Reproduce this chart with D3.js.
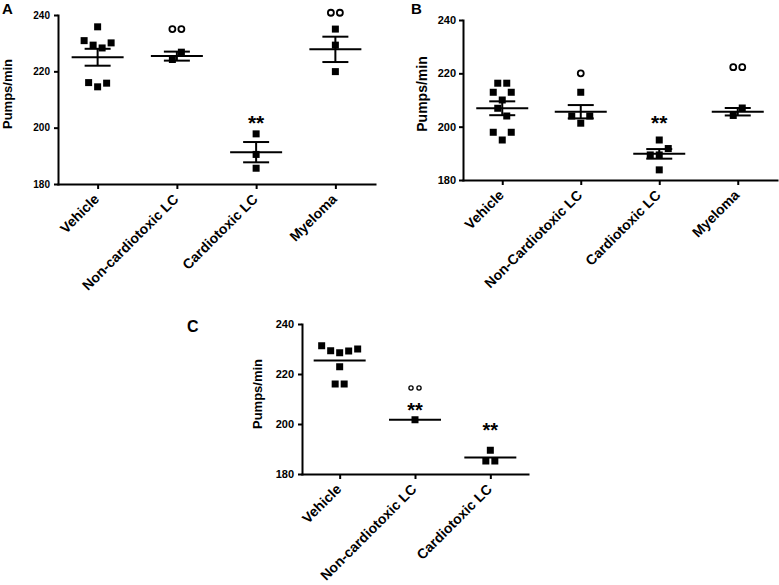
<!DOCTYPE html>
<html><head><meta charset="utf-8">
<script src="https://cdn.jsdelivr.net/npm/d3@7"></script>
<style>
body{margin:0;background:#fff}
svg{display:block}
text{font-family:"Liberation Sans",Arial,sans-serif;font-weight:bold;fill:#000}
</style>
</head><body>
<svg id="chart" width="779" height="585"></svg>
<script>
// ---------- data ----------
const yTicks = [180, 200, 220, 240];
const yLabel = "Pumps/min";

// Panel A
const catsA = ["Vehicle", "Non-cardiotoxic LC", "Cardiotoxic LC", "Myeloma"];
const valuesA = [
  [235.8, 230.9, 229.3, 228.3, 230.1, 216.0, 214.5, 215.8],
  [224.2, 226.8],
  [197.8, 190.5, 185.6],
  [235.0, 229.3, 219.9]
];
const meansA = [225.0, 225.4, 191.3, 227.8];
const semsA = [3.0, 1.6, 3.6, 4.5];
const noteCatA = ["Non-cardiotoxic LC", "Cardiotoxic LC", "Myeloma"];
const noteTextA = ["oo", "**", "oo"];
const noteValA = [235.0, 203.4, 240.8];

// Panel B
const catsB = ["Vehicle", "Non-Cardiotoxic LC", "Cardiotoxic LC", "Myeloma"];
const valuesB = [
  [216.3, 216.3, 212.9, 210.0, 212.9, 206.9, 204.0, 197.9, 195.0, 197.9],
  [212.9, 204.0, 201.3, 204.0],
  [195.0, 189.4, 189.4, 191.8, 183.8],
  [204.2, 207.0]
];
const meansB = [206.9, 205.6, 189.8, 205.6];
const semsB = [2.6, 2.5, 1.8, 1.4];
const noteCatB = ["Non-Cardiotoxic LC", "Cardiotoxic LC", "Myeloma"];
const noteTextB = ["o", "**", "oo"];
const noteValB = [220.0, 203.4, 222.3];

// Panel C
const catsC = ["Vehicle", "Non-cardiotoxic LC", "Cardiotoxic LC"];
const valuesC = [
  [231.3, 229.3, 228.5, 229.2, 230.0, 222.9, 216.0, 216.0],
  [201.7],
  [189.5, 185.2, 185.2]
];
const meansC = [225.4, 201.7, 186.6];
const noteCatC = ["Non-cardiotoxic LC", "Non-cardiotoxic LC", "Cardiotoxic LC"];
const noteTextC = ["oo", "**", "**"];
const noteValC = [214.4, 207.2, 199.2];

// ---------- drawing ----------
const svg = d3.select("#chart");

function panel(cfg) {
  const g = svg.append("g");
  const y = d3.scaleLinear().domain([180, 240]).range([cfg.yBot, cfg.yTop]);
  const x = d3.scalePoint().domain(cfg.cats).range([cfg.x0, cfg.x1]).padding(0.5);
  const MS = 7, STEP = 9, ROW = 8;

  // y axis
  const ya = g.append("g").attr("transform", `translate(${cfg.x0},0)`)
    .call(d3.axisLeft(y).tickValues(yTicks).tickSize(4).tickSizeOuter(0).tickPadding(cfg.yPad));
  ya.select(".domain").attr("stroke-width", 2).attr("stroke-linecap", "square");
  ya.selectAll(".tick line").attr("stroke-width", 2);
  ya.selectAll(".tick text").style("font-size", cfg.yFont + "px")
    .style("font-family", '"Liberation Sans",Arial,sans-serif').style("font-weight", "bold");

  // x axis
  const xa = g.append("g").attr("transform", `translate(0,${cfg.yBot})`)
    .call(d3.axisBottom(x).tickSize(5).tickSizeOuter(0));
  xa.select(".domain").attr("stroke-width", 2).attr("stroke-linecap", "square");
  xa.selectAll(".tick line").attr("stroke-width", 2);
  xa.selectAll(".tick text")
    .attr("x", 0).attr("y", 0).attr("dy", 0)
    .attr("text-anchor", "end")
    .attr("transform", "translate(2,16) rotate(-45)")
    .style("font-size", "14px")
    .style("font-family", '"Liberation Sans",Arial,sans-serif').style("font-weight", "bold");

  // y title
  g.append("text")
    .attr("transform", `translate(${cfg.titleX},${cfg.titleY}) rotate(-90)`)
    .attr("text-anchor", "middle").style("font-size", cfg.titleFont + "px").text(yLabel);

  // panel letter
  g.append("text").attr("x", cfg.letterX).attr("y", cfg.letterY)
    .style("font-size", cfg.letterFont + "px").text(cfg.letter);

  // points, laid out in rows (GraphPad-like scatter)
  cfg.values.forEach((vals, gi) => {
    const cx = x(cfg.cats[gi]);
    const idx = vals.map((v, i) => i).sort((a, b) => vals[b] - vals[a]);
    const rows = [];
    idx.forEach(i => {
      const last = rows[rows.length - 1];
      if (last && (y(vals[i]) - y(vals[last[0]])) <= ROW) last.push(i);
      else rows.push([i]);
    });
    const pts = [];
    rows.forEach(r => {
      const ord = r.slice().sort((a, b) => a - b);
      ord.forEach((i, k) => pts.push({ x: cx + (k - (ord.length - 1) / 2) * STEP, y: y(vals[i]) }));
    });
    g.append("g").selectAll("rect").data(pts).join("rect")
      .attr("x", d => d.x - MS / 2).attr("y", d => d.y - MS / 2)
      .attr("width", MS).attr("height", MS).attr("fill", "#000");

    // mean line
    const m = cfg.means[gi];
    g.append("line").attr("x1", cx - 26).attr("x2", cx + 26)
      .attr("y1", y(m)).attr("y2", y(m)).attr("stroke", "#000").attr("stroke-width", 2);
    if (cfg.sems) {
      const s = cfg.sems[gi];
      g.append("line").attr("x1", cx).attr("x2", cx)
        .attr("y1", y(m + s)).attr("y2", y(m - s)).attr("stroke", "#000").attr("stroke-width", 2);
      [m + s, m - s].forEach(v => g.append("line").attr("x1", cx - 13).attr("x2", cx + 13)
        .attr("y1", y(v)).attr("y2", y(v)).attr("stroke", "#000").attr("stroke-width", 2));
    }
  });

  // significance marks
  cfg.noteCat.forEach((c, i) => {
    const cx = x(c), cy = y(cfg.noteVal[i]), t = cfg.noteText[i];
    if (t[0] === "o") {
      const n = t.length;
      for (let k = 0; k < n; k++) {
        g.append("circle").attr("cx", cx + (k - (n - 1) / 2) * cfg.circStep).attr("cy", cy)
          .attr("r", cfg.circR).attr("fill", "none").attr("stroke", "#000").attr("stroke-width", cfg.circW);
      }
    } else {
      g.append("text").attr("x", cx).attr("y", cy + 0.57 * cfg.starFont)
        .attr("text-anchor", "middle").style("font-size", cfg.starFont + "px").text(t);
    }
  });
}

panel({ cats: catsA, values: valuesA, means: meansA, sems: semsA,
  noteCat: noteCatA, noteText: noteTextA, noteVal: noteValA,
  x0: 58, x1: 375, yTop: 15, yBot: 184, yPad: 4, yFont: 10,
  titleX: 12, titleY: 94, titleFont: 13, letter: "A", letterX: 2, letterY: 14, letterFont: 15,
  circR: 3, circW: 1.8, circStep: 9, starFont: 21 });

panel({ cats: catsB, values: valuesB, means: meansB, sems: semsB,
  noteCat: noteCatB, noteText: noteTextB, noteVal: noteValB,
  x0: 463, x1: 777, yTop: 20, yBot: 180, yPad: 3, yFont: 11,
  titleX: 427, titleY: 94, titleFont: 14, letter: "B", letterX: 411, letterY: 14, letterFont: 15,
  circR: 3, circW: 1.8, circStep: 9, starFont: 21 });

panel({ cats: catsC, values: valuesC, means: meansC, sems: null,
  noteCat: noteCatC, noteText: noteTextC, noteVal: noteValC,
  x0: 302, x1: 528, yTop: 324, yBot: 474, yPad: 4, yFont: 11,
  titleX: 262, titleY: 394, titleFont: 13, letter: "C", letterX: 187, letterY: 332, letterFont: 16,
  circR: 2.1, circW: 1.3, circStep: 8, starFont: 20 });
</script>
</body></html>
